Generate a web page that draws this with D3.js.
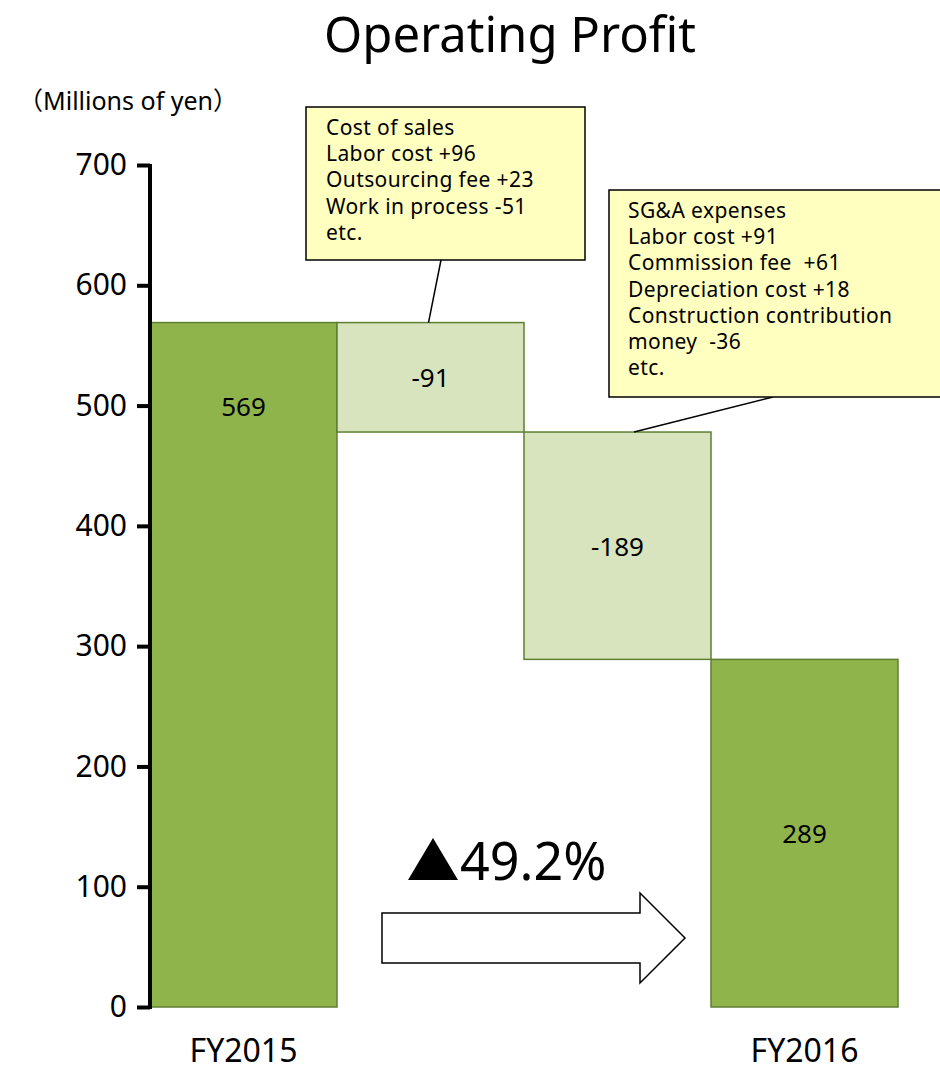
<!DOCTYPE html>
<html>
<head>
<meta charset="utf-8">
<script src="https://cdn.jsdelivr.net/npm/d3@7"></script>
<style>
  body { margin: 0; background: #fff; }
  text { font-family: "Noto Sans", "Noto Sans CJK JP", sans-serif; fill: #000; }
</style>
</head>
<body>
<div id="chart"></div>
<script>
const W = 940, H = 1072;
const MARGIN = { LEFT: 150, RIGHT: 42, TOP: 165, BOTTOM: 65 };

// data
const categories = ["FY2015", "Cost of sales", "SG&A expenses", "FY2016"];
const steps = [569, -91, -189, 289];
const isTotal = [true, false, false, true];
const axisLabels = ["FY2015", "", "", "FY2016"];
const yTicks = [0, 100, 200, 300, 400, 500, 600, 700];
const note1 = ["Cost of sales", "Labor cost +96", "Outsourcing fee +23", "Work in process -51", "etc."];
const note2 = ["SG&A expenses", "Labor cost +91", "Commission fee  +61", "Depreciation cost +18",
               "Construction contribution", "money  -36", "etc."];
const changeLabel = "49.2%";

// waterfall start/end
let running = 0;
const bars = steps.map((v, i) => {
  let lo, hi;
  if (isTotal[i]) { lo = 0; hi = v; running = v; }
  else { hi = running; running += v; lo = running; }
  return { cat: categories[i], value: v, lo, hi, total: isTotal[i] };
});

const svg = d3.select("#chart").append("svg").attr("width", W).attr("height", H);

const x = d3.scaleBand().domain(categories).range([MARGIN.LEFT, W - MARGIN.RIGHT]).padding(0);
const y = d3.scaleLinear().domain([0, 700]).range([H - MARGIN.BOTTOM, MARGIN.TOP]);

// title
svg.append("text").attr("x", 510).attr("y", 52).attr("text-anchor", "middle")
  .attr("font-size", "49px").text("Operating Profit");
svg.append("text").attr("x", 18).attr("y", 110).attr("font-size", "25px")
  .text("\uFF08Millions of yen\uFF09");

// bars
svg.selectAll(".bar").data(bars).enter().append("rect")
  .attr("class", "bar")
  .attr("x", d => x(d.cat))
  .attr("width", x.bandwidth())
  .attr("y", d => y(d.hi))
  .attr("height", d => y(d.lo) - y(d.hi))
  .attr("fill", d => d.total ? "#8fb44b" : "#d7e4bd")
  .attr("stroke", "#5f7f33")
  .attr("stroke-width", 1.5);

// first total label sits near the top of its bar, the rest are centred
svg.selectAll(".val").data(bars).enter().append("text")
  .attr("x", d => x(d.cat) + x.bandwidth() / 2)
  .attr("y", (d, i) => (i === 0 ? y(d.hi) + 83 : y((d.lo + d.hi) / 2)) + 10)
  .attr("text-anchor", "middle")
  .attr("font-size", "26px")
  .text(d => d.value);

// y axis
const yAxis = svg.append("g").attr("transform", `translate(${MARGIN.LEFT},0)`)
  .call(d3.axisLeft(y).tickValues(yTicks).tickSize(13).tickPadding(10));
yAxis.select(".domain").attr("stroke", "#000").attr("stroke-width", 4)
  .attr("d", `M0,${y(700) - 1}V${y(0) + 2}`);
yAxis.selectAll(".tick line").attr("stroke", "#000").attr("stroke-width", 4);
yAxis.selectAll(".tick text").attr("font-size", "30px")
  .attr("font-family", "'Noto Sans', sans-serif").attr("fill", "#000");

// x labels
svg.selectAll(".xl").data(categories).enter().append("text")
  .attr("x", d => x(d) + x.bandwidth() / 2)
  .attr("y", 1062)
  .attr("text-anchor", "middle")
  .attr("font-size", "32px")
  .text((d, i) => axisLabels[i]);

// callouts
function callout(lines, bx, by, bw, bh, tx, lineFrom, lineTo) {
  svg.append("line")
    .attr("x1", lineFrom[0]).attr("y1", lineFrom[1])
    .attr("x2", lineTo[0]).attr("y2", lineTo[1])
    .attr("stroke", "#000").attr("stroke-width", 1.5);
  svg.append("rect").attr("x", bx).attr("y", by).attr("width", bw).attr("height", bh)
    .attr("fill", "#ffffc0").attr("stroke", "#000").attr("stroke-width", 1.5);
  svg.append("g").selectAll("text").data(lines).enter().append("text")
    .attr("x", tx).attr("y", (d, i) => by + 28 + i * 26.2)
    .attr("font-size", "21px")
    .attr("letter-spacing", "0.4px")
    .style("white-space", "pre")
    .text(d => d);
}
const c1 = x("Cost of sales") + x.bandwidth() / 2;
callout(note1, 306, 107, 279, 153, 326, [441, 260], [c1 - 2, y(569)]);
const c2 = x("SG&A expenses");
callout(note2, 609, 190, 340, 207, 628, [773, 397], [c2 + 110, y(478)]);

// arrow
const ax0 = 382, ax1 = 640, aTip = 685, aMid = 938;
svg.append("path")
  .attr("d", `M${ax0},${aMid - 25}H${ax1}V${aMid - 45}L${aTip},${aMid}L${ax1},${aMid + 45}V${aMid + 25}H${ax0}Z`)
  .attr("fill", "#fff").attr("stroke", "#000").attr("stroke-width", 1.5);
svg.append("path").attr("d", "M408,880L433,838L458,880Z").attr("fill", "#000");
svg.append("text").attr("x", 460).attr("y", 880).attr("font-size", "52px").text(changeLabel);
</script>
</body>
</html>
